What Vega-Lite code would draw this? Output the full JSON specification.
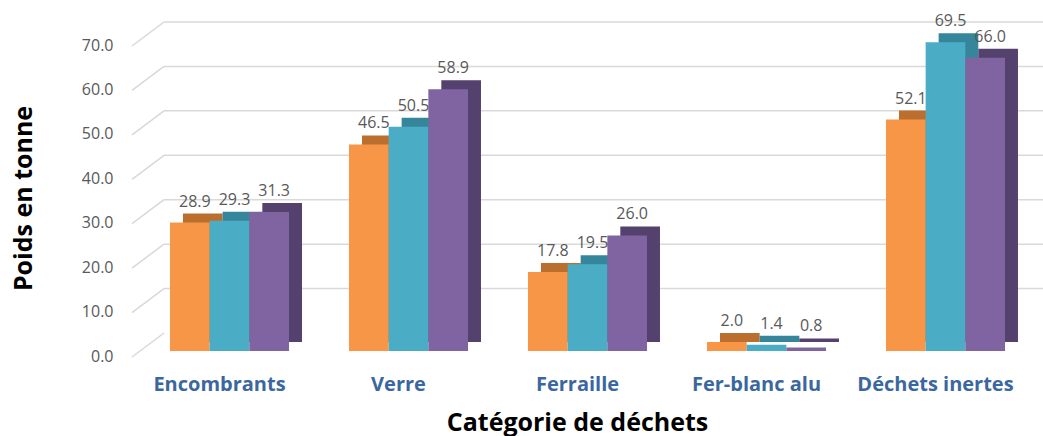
{
  "$schema": "https://vega.github.io/schema/vega-lite/v6.json",
  "autosize": "none",
  "width": 905,
  "height": 311,
  "padding": {"left": 135, "top": 40, "right": 3, "bottom": 85},
  "config": {"view": {"stroke": null}, "font": "Open Sans"},
  "datasets": {
    "bars": [
      {"cat": "Encombrants", "serie": "Série 1", "val": 28.9},
      {"cat": "Encombrants", "serie": "Série 2", "val": 29.3},
      {"cat": "Encombrants", "serie": "Série 3", "val": 31.3},
      {"cat": "Verre", "serie": "Série 1", "val": 46.5},
      {"cat": "Verre", "serie": "Série 2", "val": 50.5},
      {"cat": "Verre", "serie": "Série 3", "val": 58.9},
      {"cat": "Ferraille", "serie": "Série 1", "val": 17.8},
      {"cat": "Ferraille", "serie": "Série 2", "val": 19.5},
      {"cat": "Ferraille", "serie": "Série 3", "val": 26.0},
      {"cat": "Fer-blanc alu", "serie": "Série 1", "val": 2.0},
      {"cat": "Fer-blanc alu", "serie": "Série 2", "val": 1.4},
      {"cat": "Fer-blanc alu", "serie": "Série 3", "val": 0.8},
      {"cat": "Déchets inertes", "serie": "Série 1", "val": 52.1},
      {"cat": "Déchets inertes", "serie": "Série 2", "val": 69.5},
      {"cat": "Déchets inertes", "serie": "Série 3", "val": 66.0}
    ],
    "ticks": [{"v": 0}, {"v": 10}, {"v": 20}, {"v": 30}, {"v": 40}, {"v": 50}, {"v": 60}, {"v": 70}],
    "backticks": [{"v": 10}, {"v": 20}, {"v": 30}, {"v": 40}, {"v": 50}, {"v": 60}, {"v": 70}]
  },
  "layer": [
    {
      "data": {"name": "ticks"},
      "mark": {"type": "rule", "color": "#d9d9d9", "strokeWidth": 1.5, "xOffset": -3, "x2Offset": 29, "yOffset": 6, "y2Offset": -18},
      "encoding": {
        "x": {"datum": 0, "type": "quantitative", "scale": {"domain": [0, 1]}, "axis": null},
        "x2": {"datum": 0},
        "y": {"field": "v", "type": "quantitative", "scale": {"domain": [0, 70], "nice": false},
          "axis": {"title": "Poids en tonne", "values": [0, 10, 20, 30, 40, 50, 60, 70], "format": ".1f", "grid": false, "domain": false, "ticks": false,
            "labelFontSize": 16, "labelColor": "#595959", "labelPadding": 22, "labelOffset": 5,
            "titleFontSize": 25, "titleFontWeight": "bold", "titleColor": "#000000", "titleX": -112, "titleY": 158, "titleBaseline": "middle", "titleAngle": -90}},
        "y2": {"field": "v"}
      }
    },
    {
      "data": {"name": "backticks"},
      "mark": {"type": "rule", "color": "#d9d9d9", "strokeWidth": 1.5, "xOffset": 29, "x2Offset": 3, "yOffset": -18},
      "encoding": {
        "x": {"datum": 0, "type": "quantitative", "scale": {"domain": [0, 1]}, "axis": null},
        "x2": {"datum": 1},
        "y": {"field": "v", "type": "quantitative",
          "axis": {"title": "Poids en tonne", "values": [0, 10, 20, 30, 40, 50, 60, 70], "format": ".1f", "grid": false, "domain": false, "ticks": false,
            "labelFontSize": 16, "labelColor": "#595959", "labelPadding": 22, "labelOffset": 5,
            "titleFontSize": 25, "titleFontWeight": "bold", "titleColor": "#000000", "titleX": -112, "titleY": 158, "titleBaseline": "middle", "titleAngle": -90}}
      }
    },
    {
      "data": {"name": "bars"},
      "encoding": {
        "x": {"field": "cat", "type": "nominal", "sort": null,
          "scale": {"paddingInner": 0.335, "paddingOuter": 0.1955},
          "axis": {"title": "Catégorie de déchets", "labelAngle": 0, "domain": false, "ticks": false,
            "labelFontSize": 20, "labelFontWeight": "bold", "labelColor": "#3b67a0", "labelPadding": 23, "labelOffset": -10,
            "titleFontSize": 25, "titleFontWeight": "bold", "titleColor": "#000000", "titleX": 442, "titleY": 79, "titleBaseline": "alphabetic"}},
        "y": {"field": "val", "type": "quantitative",
          "axis": {"title": "Poids en tonne", "values": [0, 10, 20, 30, 40, 50, 60, 70], "format": ".1f", "grid": false, "domain": false, "ticks": false,
            "labelFontSize": 16, "labelColor": "#595959", "labelPadding": 22, "labelOffset": 5,
            "titleFontSize": 25, "titleFontWeight": "bold", "titleColor": "#000000", "titleX": -112, "titleY": 158, "titleBaseline": "middle", "titleAngle": -90}}
      },
      "layer": [
        {
          "mark": {"type": "bar", "yOffset": -9, "y2Offset": -4},
          "encoding": {
            "xOffset": {"field": "serie", "sort": null, "scale": {"range": [13, 132]}},
            "color": {"field": "serie", "type": "nominal", "scale": {"range": ["#bb6f2e", "#36869b", "#54416d"]}, "legend": null}
          }
        },
        {
          "mark": {"type": "bar"},
          "encoding": {
            "xOffset": {"field": "serie", "sort": null},
            "color": {"field": "serie", "type": "nominal", "scale": {"range": ["#f79646", "#4bacc6", "#8064a2"]}, "legend": null}
          }
        },
        {
          "mark": {"type": "text", "dx": 5, "dy": -21, "fontSize": 16, "color": "#595959", "baseline": "middle"},
          "encoding": {
            "xOffset": {"field": "serie", "sort": null},
            "text": {"field": "val", "type": "quantitative", "format": ".1f"}
          }
        }
      ],
      "resolve": {"scale": {"color": "independent", "xOffset": "independent"}}
    }
  ],
  "resolve": {"scale": {"x": "independent"}}
}
